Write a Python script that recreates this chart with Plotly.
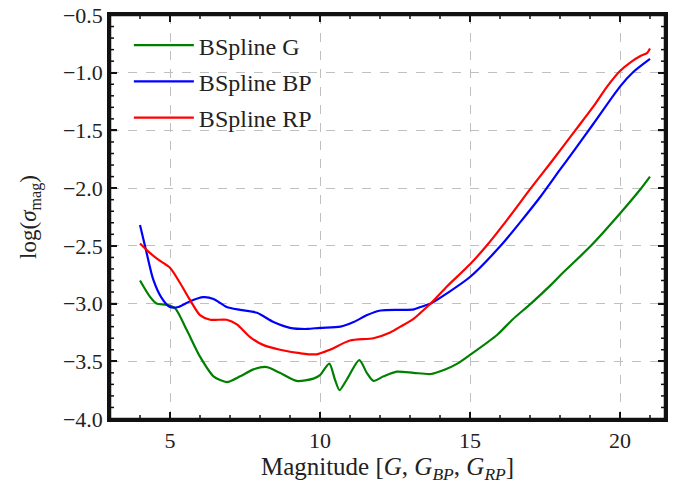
import plotly.graph_objects as go

# --- data ---
g_mag = [4.0, 4.33, 4.55, 4.89, 5.17, 5.56, 6.0, 6.45, 6.9, 7.34, 7.78, 8.23, 8.66, 9.22, 9.78,
         10.0, 10.31, 10.5, 10.65, 10.89, 11.31, 11.56, 11.78, 12.12, 12.56, 13.12, 13.69, 14.13,
         14.58, 15.0, 15.91, 16.41, 17.03, 17.69, 18.03, 19.03, 20.0, 20.68, 21.0]
g_sig = [-2.80, -2.94, -3.00, -3.01, -3.04, -3.23, -3.46, -3.63, -3.68, -3.63, -3.57, -3.55, -3.60,
         -3.67, -3.65, -3.62, -3.52, -3.66, -3.75, -3.66, -3.49, -3.60, -3.67, -3.63, -3.59, -3.60,
         -3.61, -3.575, -3.52, -3.445, -3.27, -3.14, -3.0, -2.84, -2.75, -2.5, -2.22, -2.01, -1.90]

bp_mag = [4.0, 4.22, 4.44, 4.72, 5.0, 5.28, 5.67, 6.11, 6.45, 6.89, 7.34, 7.9, 8.45, 9.0, 9.57,
          10.0, 10.68, 11.12, 11.57, 12.02, 12.68, 13.13, 13.35, 13.69, 14.24, 15.0, 16.02, 16.69,
          17.36, 18.0, 18.51, 19.12, 20.0, 20.46, 21.0]
bp_sig = [-2.32, -2.56, -2.79, -2.95, -3.03, -3.03, -2.98, -2.945, -2.96, -3.03, -3.055, -3.08,
          -3.16, -3.21, -3.22, -3.21, -3.20, -3.16, -3.10, -3.06, -3.055, -3.05, -3.03, -3.0,
          -2.91, -2.77, -2.5, -2.29, -2.07, -1.84, -1.66, -1.44, -1.12, -0.99, -0.88]

rp_mag = [4.0, 4.28, 4.61, 5.0, 5.33, 5.67, 6.0, 6.34, 6.89, 7.23, 7.67, 8.12, 8.67, 9.33, 9.89,
          10.33, 11.0, 11.78, 12.34, 12.68, 13.13, 13.35, 13.69, 14.24, 15.0, 15.58, 16.25, 17.03,
          17.69, 18.51, 19.12, 19.57, 20.0, 20.35, 20.68, 20.9, 21.0]
rp_sig = [-2.48, -2.55, -2.62, -2.69, -2.82, -2.97, -3.10, -3.14, -3.14, -3.18, -3.29, -3.36,
          -3.40, -3.43, -3.44, -3.40, -3.32, -3.30, -3.25, -3.20, -3.13, -3.08, -3.0, -2.85,
          -2.66, -2.49, -2.27, -2.0, -1.78, -1.5, -1.29, -1.12, -0.985, -0.91, -0.855, -0.83, -0.79]

series_names = ["BSpline G", "BSpline BP", "BSpline RP"]
series_colors = ["#008000", "#0000ff", "#ff0000"]

x_ticks = [5, 10, 15, 20]
y_ticks = [-4.0, -3.5, -3.0, -2.5, -2.0, -1.5, -1.0, -0.5]
x_minor = [4, 6, 7, 8, 9, 11, 12, 13, 14, 16, 17, 18, 19, 21]
y_minor = [round(-4.0 + 0.1 * i, 1) for i in range(36) if i % 5 != 0]

X_RANGE = [3.0, 21.5]
Y_RANGE = [-4.0, -0.5]

FONT = "Liberation Serif"
TXT = "#222"
INK = "#111111"

fig = go.Figure()
for name, color, xs, ys in zip(series_names, series_colors,
                               [g_mag, bp_mag, rp_mag], [g_sig, bp_sig, rp_sig]):
    fig.add_trace(go.Scatter(
        x=xs, y=ys, mode="lines", name=name, legendgroup=name,
        line=dict(color=color, width=2.2, shape="spline", smoothing=0.7),
    ))

# --- frame and inward ticks built from the axis ranges (pixel lengths -> data units) ---
PLOT_W, PLOT_H = 555, 404
xu = (X_RANGE[1] - X_RANGE[0]) / PLOT_W   # data units per px along x
yu = (Y_RANGE[1] - Y_RANGE[0]) / PLOT_H   # data units per px along y
x0, x1 = X_RANGE
y0, y1 = Y_RANGE

def tick_segments(major_len, minor_len):
    xs, ys = [], []
    for vals, ln in ((x_ticks, major_len), (x_minor, minor_len)):
        for v in vals:
            xs += [v, v, None, v, v, None]
            ys += [y0, y0 + ln * yu, None, y1, y1 - ln * yu, None]
    for vals, ln in ((y_ticks, major_len), (y_minor, minor_len)):
        for v in vals:
            xs += [x0, x0 + ln * xu, None, x1, x1 - ln * xu, None]
            ys += [v, v, None, v, v, None]
    return xs, ys

tx, ty = tick_segments(7, 4)
fig.add_trace(go.Scatter(x=tx, y=ty, mode="lines", line=dict(color=INK, width=1.5),
                         showlegend=False, hoverinfo="skip", cliponaxis=False))
fig.add_trace(go.Scatter(x=[x0, x1, x1, x0, x0], y=[y0, y0, y1, y1, y0], mode="lines",
                         line=dict(color=INK, width=2.5), showlegend=False,
                         hoverinfo="skip", cliponaxis=False))

axis_common = dict(
    showline=True, linecolor=INK, linewidth=2.5, mirror="allticks",
    ticks="inside", ticklen=7, tickwidth=1.5, tickcolor=INK,
    showgrid=True, gridcolor="#c0c0c0", griddash="dash", gridwidth=1,
    zeroline=False,
    tickfont=dict(family=FONT, size=22, color=TXT),
)

fig.update_xaxes(
    range=X_RANGE, tickmode="array", tickvals=x_ticks, ticktext=[str(v) for v in x_ticks],
    title=dict(text="Magnitude [<i>G</i>, <i>G</i><sub><i>BP</i></sub>, <i>G</i><sub><i>RP</i></sub>]",
               font=dict(family=FONT, size=25, color=TXT), standoff=2),
    **axis_common,
)
fig.update_yaxes(
    range=Y_RANGE, tickmode="array", tickvals=y_ticks, tickformat=".1f", ticksuffix="  ",
    title=dict(text="log(<i>σ</i><sub>mag</sub>)",
               font=dict(family=FONT, size=23, color=TXT), standoff=20),
    **axis_common,
)

fig.update_layout(
    template="none",
    width=678, height=487,
    margin=dict(l=110, r=13, t=15, b=68),
    paper_bgcolor="white", plot_bgcolor="white",
    showlegend=True,
    legend=dict(x=0.034, y=0.98, xanchor="left", yanchor="top",
                bgcolor="rgba(255,255,255,0)", borderwidth=0,
                font=dict(family=FONT, size=24, color=TXT),
                tracegroupgap=2, itemwidth=60),
)

fig.write_html("out.html", post_script="document.body.style.margin='0';",
               config={"displayModeBar": False})
